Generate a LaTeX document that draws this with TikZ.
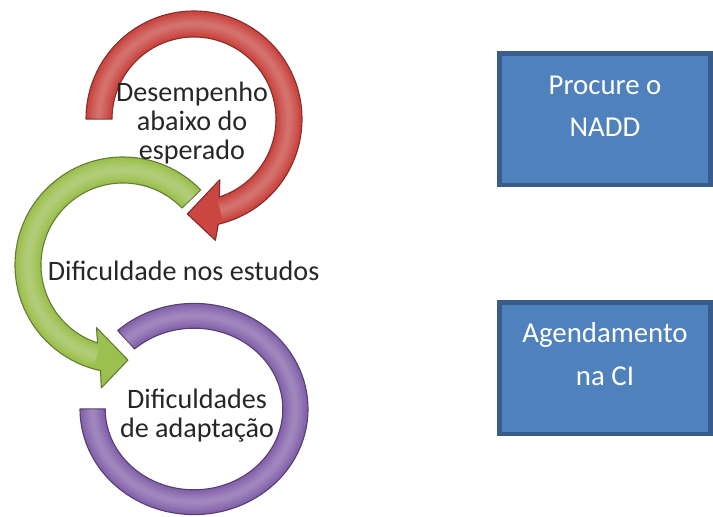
\documentclass[tikz,border=0pt]{standalone}
\usepackage{fontspec}
\setmainfont{Carlito}
\usepackage{tikz}
\definecolor{loopred}{HTML}{CB4641}
\definecolor{loopgreen}{HTML}{9CC04F}
\definecolor{looppurple}{HTML}{8462AC}
\definecolor{boxblue}{HTML}{4F81BD}
\definecolor{boxedge}{HTML}{385D8A}

\begin{document}
\begin{tikzpicture}[
  loopband/.style={line width=0.8pt, line join=round},
  redloop/.style={loopband, fill=loopred, draw=loopred!65!black},
  greenloop/.style={loopband, fill=loopgreen, draw=loopgreen!65!black},
  purpleloop/.style={loopband, fill=looppurple, draw=looppurple!65!black},
  gloss/.style={white, opacity=0.035},
  looptext/.style={align=center, text=black!85, font=\fontsize{20}{20.5}\selectfont},
  infobox/.style={draw=boxedge, fill=boxblue, line width=0.12cm, minimum width=5.28cm, minimum height=3.28cm},
  boxtext/.style={align=center, text=white, font=\fontsize{20.5}{30}\selectfont}
]
  \useasboundingbox (0,0) rectangle (17.825,12.925);

  % circular arrows
  \begin{scope}[shift={(3.075,6.3)}]
    \filldraw[greenloop] (44:2.7) arc[start angle=44, end angle=258, radius=2.7]
      -- (260:3.12) -- (273:2.38) -- (247:1.7) -- (252:2.05)
      arc[start angle=252, end angle=44, radius=2.05] -- cycle;
    \foreach \w in {0.52,0.46,...,0.08}
      \draw[gloss, line width=\w cm] (44:2.375) arc[start angle=44, end angle=254, radius=2.375];
  \end{scope}
  \begin{scope}[shift={(4.85,9.95)}]
    \filldraw[redloop] (180:2.7) arc[start angle=180, end angle=-77, radius=2.7]
      -- (-80:3.08) -- (-94:2.38) -- (-67:1.65) -- (-72:2.05)
      arc[start angle=-72, end angle=180, radius=2.05] -- cycle;
    \foreach \w in {0.52,0.46,...,0.08}
      \draw[gloss, line width=\w cm] (180:2.375) arc[start angle=180, end angle=-74, radius=2.375];
  \end{scope}
  \begin{scope}[shift={(4.85,2.7)}]
    \filldraw[purpleloop] (132:2.85 and 2.64) arc[start angle=132, end angle=-180, x radius=2.85, y radius=2.64]
      -- (-180:2.22 and 2.02) arc[start angle=-180, end angle=132, x radius=2.22, y radius=2.02] -- cycle;
    \foreach \w in {0.52,0.46,...,0.08}
      \draw[gloss, line width=\w cm] (132:2.535 and 2.33) arc[start angle=132, end angle=-180, x radius=2.535, y radius=2.33];
  \end{scope}

  \node[looptext] (desempenho) at (4.8,9.85) {Desempenho\\abaixo do\\esperado};
  \node[looptext] (estudos) at (4.59,6.15) {Dificuldade nos estudos};
  \node[looptext] (adaptacao) at (4.925,2.525) {Dificuldades\\de adaptação};

  % boxes on the right
  \node[infobox] (nadd) at (15.125,9.9375) {};
  \node[boxtext] (naddtext) at ([yshift=3.4mm]nadd.center) {Procure o\\NADD};
  \node[infobox] (ci) at (15.125,3.7125) {};
  \node[boxtext] (citext) at ([yshift=3.6mm]ci.center) {Agendamento\\na CI};
\end{tikzpicture}
\end{document}
